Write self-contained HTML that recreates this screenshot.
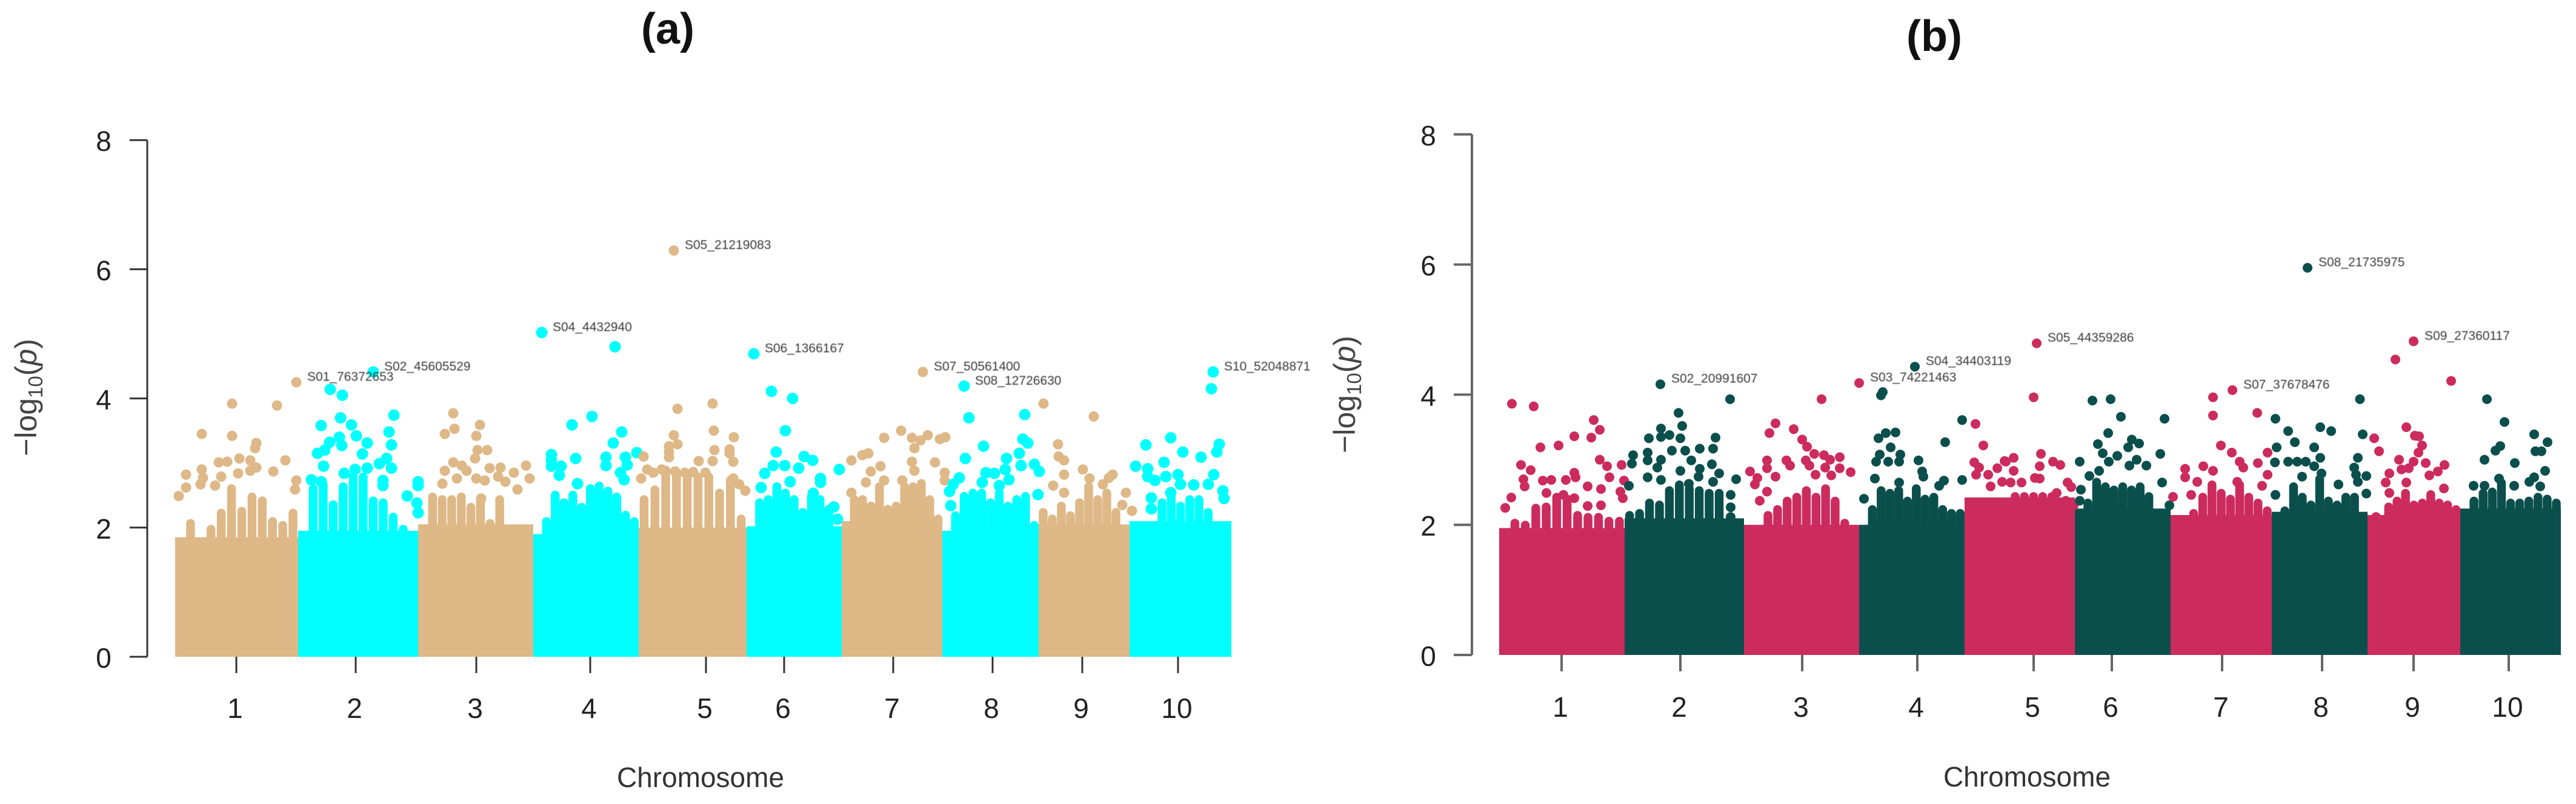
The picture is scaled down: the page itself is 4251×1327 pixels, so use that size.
<!DOCTYPE html>
<html lang="en">
<head>
<meta charset="utf-8">
<title>Manhattan plots (a) and (b)</title>
<style>
html,body{margin:0;padding:0;background:#fff;width:4251px;height:1327px;overflow:hidden}
svg{display:block;font-family:"Liberation Sans",sans-serif}
.peak-label{filter:blur(0.6px)}
</style>
</head>
<body>
<svg id="figure" xmlns="http://www.w3.org/2000/svg" width="4251" height="1327" viewBox="0 0 4251 1327">
  <rect x="0" y="0" width="4251" height="1327" fill="#fff"/>
  <text x="1102" y="72" font-size="72" font-weight="bold" text-anchor="middle" fill="#111">(a)</text>
  <text x="3192" y="84" font-size="72" font-weight="bold" text-anchor="middle" fill="#111">(b)</text>
  <g id="panel-a"></g>
  <g id="panel-b"></g>
</svg>
<script>
/* ---------- shared axis data ---------- */
const chromosomeLabels=["1","2","3","4","5","6","7","8","9","10"];
const yTickValues=[0,2,4,6,8];

/* ---------- panel (a) data: positions are Mb within a chromosome, values are -log10(p) ---------- */
const chromLengthsA=[101.5,99,95,87,89,78.5,83,79.5,75,84];
const tickPosA=[50.5,47.5,48,47,55.5,31,42.5,41.5,36,40];
const solidLevelA=[1.85,1.95,2.05,1.9,2.0,2.02,2.1,1.95,2.05,2.1];
const massA1=[1.85,2.13,1.91,2.04,2.29,2.67,2.32,2.54,2.48,2.16,2.1,2.29];
const massA2=[1.91,2.67,2.73,2.42,2.7,2.85,2.85,2.48,2.45,2.23,2.04,2.01];
const massA3=[2.1,2.54,2.5,2.5,2.54,2.38,2.48,2.13,2.5,2.1,2.04,1.95];
const massA4=[1.91,2.16,2.57,2.45,2.57,2.38,2.67,2.71,2.63,2.54,2.26,2.16];
const massA5=[2.5,2.65,2.9,2.9,2.88,2.85,2.85,2.6,2.8,2.2];
const massA6=[2.04,2.45,2.5,2.7,2.6,2.5,2.3,2.55,2.5,2.35,2.05];
const massA7=[2.1,2.5,2.5,2.4,2.7,2.35,2.4,2.7,2.7,2.75,2.5,2.2];
const massA8=[1.95,2.25,2.55,2.6,2.6,2.45,2.6,2.4,2.5,2.55,2.1];
const massA9=[2.3,2.2,2.4,2.25,2.45,2.7,2.5,2.6,2.3,2.1];
const massA10=[2,2.1,2.1,2.45,2.55,2.4,2.5,2.5,2.3,2.15,1.95];
const pointsA1=[[47,3.92],[84,3.89],[22,3.45],[47,3.42],[67,3.31],[66,3.23],[53,3.07],[62,3.04],[43,3.02],[36,3.01],[91,3.04],[67,2.93],[81,2.87],[62,2.88],[52,2.84],[22,2.9],[9,2.82],[23,2.77],[38,2.79],[9,2.62],[3,2.49],[33,2.65],[21,2.67],[100,2.73],[99,2.59]];
const pointsA2=[[26.5,4.14],[36.5,4.05],[19,3.58],[35,3.7],[44,3.59],[79,3.74],[75,3.48],[77,3.28],[48,3.42],[57,3.31],[34,3.4],[26,3.32],[36,3.27],[22,3.2],[16,3.15],[53,3.14],[21,2.95],[73,3.07],[67,2.99],[77,2.92],[38,2.84],[47,2.9],[57,2.92],[70,2.73],[70,2.65],[99,2.71],[99,2.65],[90,2.49],[98,2.38],[99,2.23],[11,2.74],[19,2.71]];
const pointsA3=[[29,3.77],[30,3.53],[22,3.45],[51,3.59],[48,3.42],[57,3.2],[49,3.2],[47,3.07],[29,3.01],[36,2.96],[22,2.88],[40,2.88],[32,2.76],[20,2.68],[89,2.96],[92,2.76],[82,2.59],[59,2.92],[68,2.93],[79,2.85],[66,2.79],[72,2.71],[55,2.73],[48,2.76],[52,2.45]];
const pointsA4=[[67.5,4.8],[48.5,3.72],[32,3.59],[73,3.48],[66,3.31],[15,3.13],[15,3.04],[15,2.95],[35,3.07],[60,3.09],[60,2.96],[76,3.09],[77.5,2.97],[23,2.95],[21.5,2.81],[72,2.85],[75,2.74],[36.5,2.68],[85.5,3.16]];
const pointsA5=[[32,3.84],[61,3.92],[62,3.5],[29,3.43],[25,3.26],[32,3.29],[62.5,3.2],[25,3.17],[25,3.09],[49.5,3.03],[61,3.03],[4,3.1],[7,2.9],[2,2.76],[19,2.9],[78.5,3.4],[75,3.21],[75,3.15],[78,3.02],[78,2.76],[83,2.67],[88,2.57],[12,2.85],[22,2.88],[30,2.87],[38,2.85],[45,2.86],[55,2.85]];
const pointsA6=[[20.5,4.11],[38,4],[32,3.5],[24.5,3.17],[47.5,3.1],[54.5,3.04],[43,2.92],[76.5,2.9],[61,2.76],[31.5,2.96],[22,2.96],[15,2.84],[61,2.7],[36,2.71],[12,2.62],[55,2.53],[72,2.32],[75,2.13]];
const pointsA7=[[49,3.5],[35,3.39],[58,3.39],[71,3.43],[65,3.35],[81,3.37],[85.5,3.4],[60,3.23],[22,3.15],[17,3.12],[8,3.04],[58,3.02],[77,3.01],[32,2.95],[24,2.87],[60,2.88],[85,2.85],[20,2.7],[50,2.73],[85,2.73],[8,2.54],[35,2.73]];
const pointsA8=[[22,3.7],[68,3.75],[66.5,3.37],[34,3.26],[70.5,3.31],[19,3.07],[63.5,3.15],[53,3.07],[52,2.9],[36,2.85],[43,2.84],[65,2.96],[76,2.98],[80,2.87],[14,2.77],[33,2.7],[9,2.67],[6,2.56],[55,2.74],[47,2.65],[79,2.51],[7,2.34]];
const pointsA9=[[4,3.92],[45.5,3.72],[16,3.29],[16.5,3.1],[21,3.04],[21,2.82],[36.5,2.9],[61,2.82],[58,2.77],[42,2.76],[12,2.65],[21,2.54],[53,2.67],[72,2.54],[69,2.35],[77,2.26]];
const pointsA10=[[67.5,4.15],[13.5,3.28],[34,3.39],[44,3.17],[59,3.09],[74,3.29],[72,3.17],[5,2.95],[28.5,3.01],[15,2.91],[15,2.79],[21,2.73],[30,2.79],[40,2.82],[69.5,2.82],[42,2.67],[53,2.66],[65,2.67],[77,2.57],[78,2.45],[18,2.46],[18,2.29],[34,2.54]];
const peakNamesA=["S01_76372653","S02_45605529","S04_4432940","S05_21219083","S06_1366167","S07_50561400","S08_12726630","S10_52048871"];
const peakChromA=[1,2,4,5,6,7,8,10];
const peakPosA=[100,62,7,29,6,67,18,69];
const peakLogPA=[4.25,4.41,5.02,6.29,4.69,4.41,4.19,4.41];

/* ---------- panel (b) data ---------- */
const chromLengthsB=[103.5,98.5,95,87,91,79,83.5,79,76.5,83];
const tickPosB=[51.5,46,48,48,57,30.5,42.5,41.5,38,40];
const solidLevelB=[1.95,2.1,2.0,2.0,2.42,2.25,2.15,2.2,2.15,2.25];
const massB1=[1.95,2.09,2.06,2.32,2.34,2.49,2.46,2.21,2.18,2.18,2.12,2.12];
const massB2=[2.21,2.24,2.4,2.37,2.59,2.68,2.62,2.59,2.55,2.55,1.9,1.75];
const massB3=[2,2.04,2.21,2.3,2.43,2.49,2.59,2.49,2.62,2.43,2.09,1.96];
const massB4=[1.9,2.3,2.59,2.55,2.59,2.43,2.62,2.46,2.49,2.3,2.24,2.24];
const massB5=[2.2,2.48,2.48,2.42,2.48,2.5,2.5,2.5,2.5,2.5,2.05,1.95];
const massB6=[2.09,2.4,2.72,2.65,2.6,2.65,2.6,2.65,2.5,1.95,1.65];
const massB7=[1.72,2.18,2.24,2.49,2.68,2.55,2.46,2.68,2.49,2.4,2.28];
const massB8=[2.21,2.28,2.65,2.49,2.37,2.77,2.43,2.37,2.49,2.49,2.24];
const massB9=[1.81,1.9,2.34,2.43,2.55,2.37,2.4,2.53,2.4,2.37,2.3];
const massB10=[2.28,2.43,2.55,2.57,2.71,2.4,2.4,2.43,2.49,2.46,2.4];
const pointsB1=[[10.5,3.86],[28.5,3.82],[78,3.61],[83,3.46],[62,3.36],[76,3.34],[34,3.19],[49,3.22],[18,2.92],[26,2.84],[83,3],[89,2.9],[101,2.92],[91,2.73],[62,2.8],[63,2.73],[20,2.7],[21,2.59],[36,2.68],[43,2.69],[55,2.69],[73,2.59],[84,2.55],[10,2.42],[100,2.51],[102,2.41],[103,2.68],[5,2.26],[84,2.3],[73,2.29],[39,2.49],[53,2.46],[62,2.41]];
const pointsB2=[[87,3.93],[44.5,3.72],[47.5,3.52],[30,3.48],[20,3.33],[30,3.35],[37,3.38],[46,3.33],[75,3.34],[39,3.14],[50,3.14],[62,3.17],[73,3.17],[7,3.07],[6,2.94],[19,3.11],[19,2.99],[30,3],[27,2.88],[55,2.99],[72,2.93],[46,2.83],[62,2.86],[61,2.74],[78,2.79],[92,2.7],[19,2.73],[30,2.69],[73,2.66],[3.5,2.6],[87.5,2.46],[87.5,2.27],[87.5,2.12],[87.5,1.96],[53,2.63]];
const pointsB3=[[64,3.93],[26,3.56],[21,3.41],[41,3.47],[48,3.31],[52,3.2],[58,3.09],[66,3.07],[79,3.04],[71,3],[79,2.87],[88,2.81],[19,2.99],[19,2.87],[35,2.99],[38,2.91],[51,2.99],[54,2.91],[5,2.82],[11,2.72],[9,2.62],[26,2.74],[59,2.77],[67,2.88],[72,2.76],[19,2.51],[13,2.37]];
const pointsB4=[[19.5,4.04],[18,3.99],[30,3.42],[85,3.61],[71,3.27],[22,3.41],[16,3.33],[26,3.19],[17,3.08],[34,3.08],[14,2.97],[24,2.97],[33,2.97],[49,2.99],[52,2.82],[53,2.74],[85,2.69],[13,2.71],[70,2.68],[4,2.4],[33,2.65],[66,2.6]];
const pointsB5=[[57,3.96],[9,3.55],[15.5,3.22],[63,3.09],[40.5,3.03],[33,2.98],[8,2.96],[73,2.97],[79,2.92],[62,2.9],[62,2.71],[85,2.65],[88,2.58],[76,2.49],[83.5,2.37],[90,2.3],[80,2.09],[12,2.88],[27,2.87],[34,2.97],[40.5,2.83],[9.5,2.77],[19.5,2.77],[21.5,2.59],[31,2.66],[38,2.65],[47,2.65],[58,2.72]];
const pointsB6=[[14.5,3.91],[29.5,3.93],[38,3.66],[74,3.63],[27.5,3.41],[19,3.24],[47,3.31],[53,3.25],[44,3.19],[70.5,3.09],[4,2.97],[23,3.1],[35,3.06],[28,2.97],[51,3],[45,2.91],[59,2.91],[12,2.75],[20,2.83],[72,2.65],[5,2.54],[4,2.37],[78,2.3],[75,2.13],[74,1.96]];
const pointsB7=[[35,3.96],[35,3.68],[71.5,3.72],[41.5,3.22],[50.5,3.11],[80,3.11],[72,2.95],[57,2.97],[60,2.88],[12,2.86],[12,2.73],[27,2.9],[35,2.83],[80,2.77],[75.5,2.6],[22,2.66],[55,2.66],[2,2.43],[17,2.46]];
const pointsB8=[[72.7,3.93],[3,3.63],[13.5,3.44],[40,3.5],[49,3.44],[19,3.27],[4,3.19],[35,3.19],[40,3.03],[71,3.03],[13.5,2.97],[21,2.97],[28,2.97],[2.6,2.96],[35,2.9],[75,3.39],[25,2.74],[41,2.79],[68,2.88],[69.5,2.77],[71,2.66],[78,2.75],[55,2.62],[3,2.46],[78,2.48]];
const pointsB9=[[23,4.54],[69,4.21],[32,3.5],[39,3.37],[42.5,3.36],[5.5,3.33],[9.5,3.13],[45,3.22],[42,3.11],[26,3],[38,2.97],[48,2.95],[63.5,2.92],[18,2.79],[28,2.85],[34,2.87],[58,2.82],[51,2.76],[15,2.65],[63,2.56],[32,2.65],[7,2.12],[18,2.49]];
const pointsB10=[[22,3.93],[36.5,3.58],[61,3.39],[72,3.27],[33,3.21],[29,3.14],[20,3],[45,2.95],[62,3.13],[67,3.13],[70,2.83],[61,2.73],[57,2.66],[66,2.59],[11,2.6],[20,2.6],[32,2.71],[44.5,2.6]];
const peakNamesB=["S02_20991607","S03_74221463","S04_34403119","S05_44359286","S07_37678476","S08_21735975","S09_27360117"];
const peakChromB=[2,3,4,5,7,8,9];
const peakPosB=[29.5,95,46,59.5,51,29.5,38];
const peakLogPB=[4.16,4.18,4.43,4.79,4.07,5.95,4.82];

const massA=[massA1,massA2,massA3,massA4,massA5,massA6,massA7,massA8,massA9,massA10];
const massB=[massB1,massB2,massB3,massB4,massB5,massB6,massB7,massB8,massB9,massB10];
const pointsA=[pointsA1,pointsA2,pointsA3,pointsA4,pointsA5,pointsA6,pointsA7,pointsA8,pointsA9,pointsA10];
const pointsB=[pointsB1,pointsB2,pointsB3,pointsB4,pointsB5,pointsB6,pointsB7,pointsB8,pointsB9,pointsB10];

const NS="http://www.w3.org/2000/svg";
function make(tag,attrs,parent,text){
  const el=document.createElementNS(NS,tag);
  for(const k in attrs){el.setAttribute(k,attrs[k]);}
  if(text!==undefined){el.textContent=text;}
  parent.appendChild(el);
  return el;
}

function renderPanel(root,layout,lengths,ticks,solid,mass,points,peakNames,peakChrom,peakPos,peakLogP){
  const starts=[];
  let total=0;
  lengths.forEach(function(len){starts.push(total);total+=len;});
  const xScale=function(chromIdx,pos){return layout.x0+layout.k*(starts[chromIdx]+pos);};
  const yScale=function(v){return layout.yBase-layout.yUnit*v;};

  /* y axis */
  const axisLine=make('line',{x1:layout.axisX,x2:layout.axisX,y1:yScale(8),y2:yScale(0),stroke:layout.axisColor,'stroke-width':layout.axisWidth},root);
  
  
  yTickValues.forEach(function(v){
    const tick=make('line',{x1:layout.axisX-layout.tickLen,x2:layout.axisX,y1:yScale(v),y2:yScale(v),stroke:layout.axisColor,'stroke-width':layout.axisWidth},root);
    
    
    const lab=make('text',{x:layout.yLabelX,y:yScale(v)+2,'font-size':46,'text-anchor':'middle','dominant-baseline':'central',fill:'#222'},root,String(v));
    
    
  });

  /* solid block of non-significant SNPs plus rounded strands up to the envelope */
  const massGroup=make('g',{},root);
  
  
  mass.forEach(function(tops,c){
    const color=layout.colors[c%2];
    const block=make('rect',{x:xScale(c,0),y:yScale(solid[c]),width:layout.k*lengths[c],height:yScale(0)-yScale(solid[c]),fill:color},massGroup);
    
    
    tops.forEach(function(v,i){
      const pos=lengths[c]*(i+0.5)/tops.length;
      const px=xScale(c,pos);
      const top=yScale(v)+7;
      if(top>=yScale(solid[c])){return;}
      const strand=make('line',{x1:px.toFixed(1),x2:px.toFixed(1),y1:yScale(solid[c])+4,y2:top.toFixed(1),stroke:color,'stroke-width':14.5,'stroke-linecap':'round'},massGroup);
      
      
    });
  });

  /* scattered SNP points */
  const pointGroup=make('g',{},root);
  
  
  points.forEach(function(list,c){
    list.forEach(function(p){
      const dot=make('circle',{cx:xScale(c,p[0]).toFixed(1),cy:yScale(p[1]).toFixed(1),r:layout.radius[c%2],fill:layout.colors[c%2]},pointGroup);
      
      
    });
  });

  /* labelled peak SNPs */
  peakNames.forEach(function(name,i){
    const c=peakChrom[i]-1;
    const px=xScale(c,peakPos[i]);
    const py=yScale(peakLogP[i]);
    const dot=make('circle',{cx:px.toFixed(1),cy:py.toFixed(1),r:layout.radius[c%2],fill:layout.colors[c%2]},pointGroup);
    
    
    const lab=make('text',{x:(px+18).toFixed(1),y:(py-9).toFixed(1),'font-size':21,'dominant-baseline':'central',fill:'#3a3a3a','class':'peak-label'},root,name);
    
    
  });

  /* x axis ticks (no baseline, as in the source plot) */
  ticks.forEach(function(pos,c){
    const px=xScale(c,pos);
    const tick=make('line',{x1:px,x2:px,y1:yScale(0),y2:yScale(0)+27,stroke:layout.axisColor,'stroke-width':layout.axisWidth},root);
    
    
    const lab=make('text',{x:px-2,y:layout.xLabelY,'font-size':46,'text-anchor':'middle','dominant-baseline':'central',fill:'#222'},root,chromosomeLabels[c]);
    
    
  });

  const xTitle=make('text',{x:layout.xTitleX,y:layout.xTitleY,'font-size':46,'text-anchor':'middle','dominant-baseline':'central',fill:'#333'},root,'Chromosome');
  
  

  const yTitle=make('text',{transform:'translate('+layout.yTitleX+' '+layout.yTitleY+') rotate(-90)','text-anchor':'middle','font-size':50,fill:'#444'},root);
  
  
  make('tspan',{},yTitle,'\u2212log');
  make('tspan',{'font-size':33,dy:10},yTitle,'10');
  make('tspan',{dy:-10},yTitle,'(');
  make('tspan',{'font-style':'italic'},yTitle,'p');
  make('tspan',{},yTitle,')');
}

renderPanel(document.getElementById('panel-a'),{
  x0:289,k:2,yBase:1084,yUnit:106.6,axisX:243,tickLen:29,axisColor:'#333',axisWidth:3,
  yLabelX:171,xLabelY:1169,xTitleX:1156,xTitleY:1283,yTitleX:60,yTitleY:656,
  colors:['#DEB887','#00FFFF'],radius:[8.5,9.5]
},chromLengthsA,tickPosA,solidLevelA,massA,pointsA,peakNamesA,peakChromA,peakPosA,peakLogPA);

renderPanel(document.getElementById('panel-b'),{
  x0:2474,k:2,yBase:1081,yUnit:107.4,axisX:2429,tickLen:30,axisColor:'#666',axisWidth:4,
  yLabelX:2357,xLabelY:1167,xTitleX:3345,xTitleY:1282,yTitleX:2236,yTitleY:651,
  colors:['#CC2B5E','#0B4F4D'],radius:[8,8]
},chromLengthsB,tickPosB,solidLevelB,massB,pointsB,peakNamesB,peakChromB,peakPosB,peakLogPB);
</script>
</body>
</html>
